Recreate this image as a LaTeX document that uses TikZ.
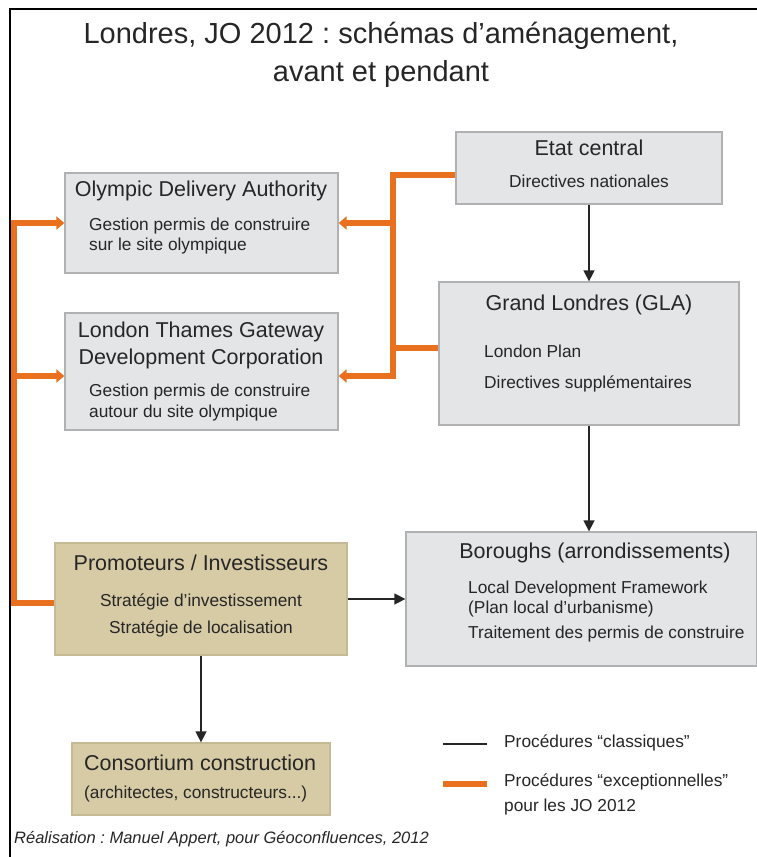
\documentclass[tikz,border=0pt]{standalone}
\usepackage{fontspec}
\setmainfont{Liberation Sans}
\usetikzlibrary{arrows.meta}
\frenchspacing

\definecolor{boxgray}{RGB}{228,229,231}
\definecolor{boxedge}{RGB}{176,177,179}
\definecolor{boxtan}{RGB}{214,203,165}
\definecolor{tanedge}{RGB}{196,186,150}
\definecolor{jorange}{RGB}{232,112,30}
\definecolor{ink}{RGB}{38,38,38}

\newcommand{\titlefont}{\fontsize{29}{33}\selectfont}
\newcommand{\headfont}{\fontsize{21.5}{24}\selectfont}
\newcommand{\bodyfont}{\fontsize{17.3}{20}\selectfont}

\begin{document}
\begin{tikzpicture}[x=1pt,y=1pt,yscale=-1,xscale=1,
  graybox/.style={draw=boxedge,line width=1.3pt,fill=boxgray,inner sep=0pt},
  tanbox/.style={draw=tanedge,line width=1.3pt,fill=boxtan,inner sep=0pt},
  lbl/.style={inner sep=0pt,text=ink,text height=0.72em,text depth=0pt},
  blackarrow/.style={draw=ink,line width=1.5pt,-{Triangle[length=11pt,width=11pt]}},
  orangeline/.style={draw=jorange,line width=5.5pt,line join=miter},
  orangearrow/.style={orangeline,-{Triangle[length=8pt,width=13pt]}}]
\useasboundingbox (0,0) rectangle (757,857);

%Frame
\draw [line width=2.8pt] (757,9) -- (10,9) -- (10,857) ;

%Title
\node [lbl] (title1) at (381,40) {\titlefont Londres, JO 2012 : schémas d’aménagement,};
\node [lbl] (title2) at (381,78) {\titlefont avant et pendant};

%Shape: Rectangle [id:etat]
\node [graybox,minimum width=266pt,minimum height=72pt] (etat) at (589,168) {};
%Shape: Rectangle [id:gla]
\node [graybox,minimum width=300pt,minimum height=143pt] (gla) at (589,353.5) {};
%Shape: Rectangle [id:oda]
\node [graybox,minimum width=273pt,minimum height=100pt] (oda) at (201.5,223) {};
%Shape: Rectangle [id:ltgdc]
\node [graybox,minimum width=273pt,minimum height=117pt] (ltgdc) at (201.5,371.5) {};
%Shape: Rectangle [id:boroughs]
\node [graybox,minimum width=351pt,minimum height=134pt] (boroughs) at (581.5,599) {};
%Shape: Rectangle [id:promo]
\node [tanbox,minimum width=292pt,minimum height=112pt] (promo) at (201,599) {};
%Shape: Rectangle [id:consort]
\node [tanbox,minimum width=258pt,minimum height=72pt] (consort) at (201,779) {};

% Text Node
\node [lbl] (etatA) at (589,152) {\headfont Etat central};
\node [lbl] (etatB) at (589,184) {\bodyfont Directives nationales};
% Text Node
\node [lbl] (glaA) at (589,307) {\headfont Grand Londres (GLA)};
\node [lbl,anchor=west] (glaB) at (484,354) {\bodyfont London Plan};
\node [lbl,anchor=west] (glaC) at (484,385) {\bodyfont Directives supplémentaires};
% Text Node
\node [lbl] (odaA) at (201,193) {\headfont Olympic Delivery Authority};
\node [lbl,anchor=west] (odaB) at (89,227) {\bodyfont Gestion permis de construire};
\node [lbl,anchor=west] (odaC) at (89,247) {\bodyfont sur le site olympique};
% Text Node
\node [lbl] (ltgdcA) at (201,334) {\headfont London Thames Gateway};
\node [lbl] (ltgdcB) at (201,361) {\headfont Development Corporation};
\node [lbl,anchor=west] (ltgdcC) at (89,393) {\bodyfont Gestion permis de construire};
\node [lbl,anchor=west] (ltgdcD) at (89,414) {\bodyfont autour du site olympique};
% Text Node
\node [lbl] (borA) at (595,555) {\headfont Boroughs (arrondissements)};
\node [lbl,anchor=west] (borB) at (468,590) {\bodyfont Local Development Framework};
\node [lbl,anchor=west] (borC) at (468,610) {\bodyfont (Plan local d’urbanisme)};
\node [lbl,anchor=west] (borD) at (468,635) {\bodyfont Traitement des permis de construire};
% Text Node
\node [lbl] (promoA) at (201,567) {\headfont Promoteurs / Investisseurs};
\node [lbl] (promoB) at (201,603) {\bodyfont Stratégie d'investissement};
\node [lbl] (promoC) at (201,630) {\bodyfont Stratégie de localisation};
% Text Node
\node [lbl,anchor=west] (consA) at (84,767) {\headfont Consortium construction};
\node [lbl,anchor=west] (consB) at (84,795) {\bodyfont (architectes, constructeurs...)};

%Straight Lines [classiques]
\draw [blackarrow] (etat.south) -- (gla.north) ;
\draw [blackarrow] (gla.south) -- (gla.south |- boroughs.north) ;
\draw [blackarrow] (promo.east) -- (boroughs.west) ;
\draw [blackarrow] (promo.south) -- (consort.north) ;

%Straight Lines [exceptionnelles, right]
\coordinate (rtop) at (393,175) ;
\coordinate (rgla) at (393,348) ;
\coordinate (rbot) at (393,376) ;
\draw [orangearrow] (etat.west |- rtop) -- (rtop) -- (rbot) -- (ltgdc.east |- rbot) ;
\draw [orangeline] (gla.west |- rgla) -- (rgla) ;
\draw [orangearrow] (rtop |- oda.east) -- (oda.east) ;

%Straight Lines [exceptionnelles, left]
\coordinate (ltop) at (14,223) ;
\coordinate (lmid) at (14,376) ;
\coordinate (lbot) at (14,603) ;
\draw [orangeline,{Triangle[length=8pt,width=13pt]}-] (oda.west |- ltop) -- (ltop) -- (lbot) -- (promo.west |- lbot) ;
\draw [orangearrow] (lmid) -- (ltgdc.west |- lmid) ;

%Legend
\coordinate (legA) at (443,744) ;
\coordinate (legB) at (487,744) ;
\coordinate (legC) at (443,784) ;
\coordinate (legD) at (487,784) ;
\draw [draw=ink,line width=1.5pt] (legA) -- (legB) ;
\draw [orangeline] (legC) -- (legD) ;
\node [lbl,anchor=west] (legE) at (504,744) {\bodyfont Procédures “classiques”};
\node [lbl,anchor=west] (legF) at (504,783) {\bodyfont Procédures “exceptionnelles”};
\node [lbl,anchor=west] (legG) at (504,808) {\bodyfont pour les JO 2012};

% Text Node
\node [lbl,anchor=west] (credit) at (14,840) {\fontsize{16.5}{19}\selectfont\itshape Réalisation : Manuel Appert, pour Géoconfluences, 2012};

\end{tikzpicture}
\end{document}
